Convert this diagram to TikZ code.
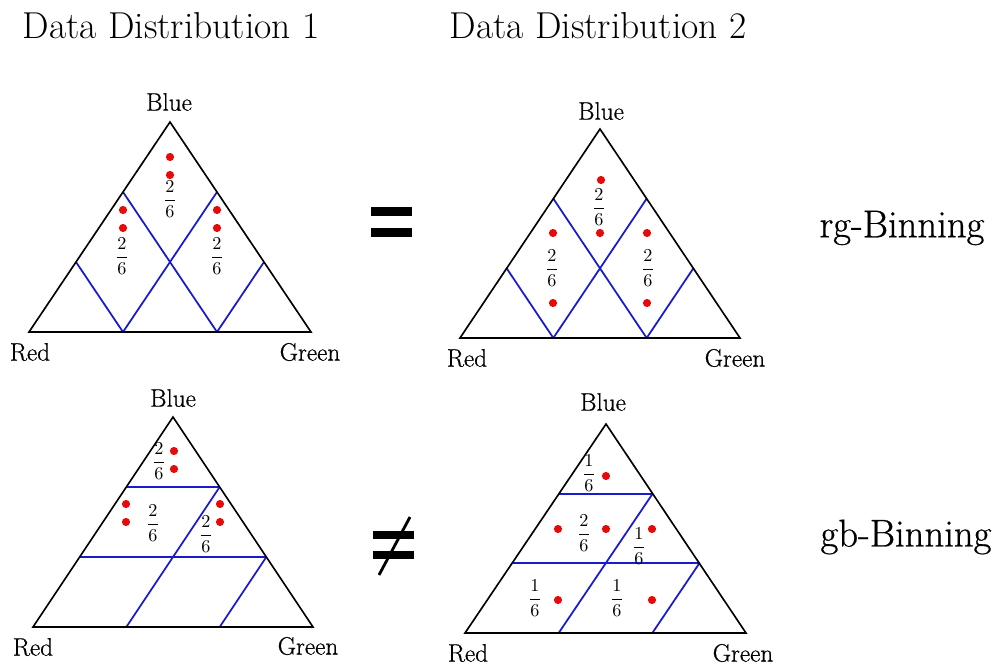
\documentclass[tikz,border=0pt]{standalone}
\usepackage{fontspec}
\usepackage{amsmath}
\usetikzlibrary{calc}
\newfontfamily\heavyfont{Latin Modern Roman}[FakeBold=0.7]
\newcommand{\binfrac}[2]{\scalebox{1.55}{$\dfrac{#1}{#2}$}}
\definecolor{dotred}{RGB}{232,10,10}
\definecolor{binblue}{RGB}{25,25,205}

\begin{document}
\begin{tikzpicture}[
    x=0.03cm, y=-0.03cm,
    tri/.style={draw=black, line width=1.4pt, line join=miter},
    bin/.style={draw=binblue, line width=1.5pt},
    dot/.style={circle, fill=dotred, inner sep=0pt, minimum size=0.245cm},
    frac/.style={inner sep=0pt},
    corner/.style={inner sep=0pt, font=\heavyfont\fontsize{21.5}{24}\selectfont},
    title/.style={inner sep=0pt, font=\fontsize{32}{36}\selectfont},
    binname/.style={inner sep=0pt, font=\heavyfont\fontsize{33}{37}\selectfont},
    bar/.style={fill=black, inner sep=0pt, minimum width=1.23cm, minimum height=0.26cm}
]
\useasboundingbox (0,0) rectangle (996,666);

\node[title] (dist1) at (171,26) {Data Distribution 1};
\node[title] (dist2) at (598,26) {Data Distribution 2};
\node[binname] (rgbin) at (902,228) {rg-Binning};
\node[binname] (gbbin) at (906,537) {gb-Binning};

% triangle corners
\coordinate (r1) at (29,332);  \coordinate (g1) at (311,332); \coordinate (b1) at (170,122);
\coordinate (r2) at (460,338); \coordinate (g2) at (740,338); \coordinate (b2) at (600,129);
\coordinate (r3) at (33,627);  \coordinate (g3) at (313,627); \coordinate (b3) at (173,417);
\coordinate (r4) at (465,633); \coordinate (g4) at (746,633); \coordinate (b4) at (606,424);

% rg-binning
\draw[bin] ($(r1)!1/3!(g1)$) -- ($(r1)!1/3!(b1)$);
\draw[bin] ($(r1)!2/3!(g1)$) -- ($(r1)!2/3!(b1)$);
\draw[bin] ($(r1)!1/3!(g1)$) -- ($(g1)!2/3!(b1)$);
\draw[bin] ($(r1)!2/3!(g1)$) -- ($(g1)!1/3!(b1)$);
\draw[bin] ($(r2)!1/3!(g2)$) -- ($(r2)!1/3!(b2)$);
\draw[bin] ($(r2)!2/3!(g2)$) -- ($(r2)!2/3!(b2)$);
\draw[bin] ($(r2)!1/3!(g2)$) -- ($(g2)!2/3!(b2)$);
\draw[bin] ($(r2)!2/3!(g2)$) -- ($(g2)!1/3!(b2)$);
% gb-binning
\draw[bin] ($(r3)!1/3!(b3)$) -- ($(g3)!1/3!(b3)$);
\draw[bin] ($(r3)!2/3!(b3)$) -- ($(g3)!2/3!(b3)$);
\draw[bin] ($(r3)!1/3!(g3)$) -- ($(g3)!2/3!(b3)$);
\draw[bin] ($(r3)!2/3!(g3)$) -- ($(g3)!1/3!(b3)$);
\draw[bin] ($(r4)!1/3!(b4)$) -- ($(g4)!1/3!(b4)$);
\draw[bin] ($(r4)!2/3!(b4)$) -- ($(g4)!2/3!(b4)$);
\draw[bin] ($(r4)!1/3!(g4)$) -- ($(g4)!2/3!(b4)$);
\draw[bin] ($(r4)!2/3!(g4)$) -- ($(g4)!1/3!(b4)$);

\draw[tri] (r1) -- (g1) -- (b1) -- cycle;
\draw[tri] (r2) -- (g2) -- (b2) -- cycle;
\draw[tri] (r3) -- (g3) -- (b3) -- cycle;
\draw[tri] (r4) -- (g4) -- (b4) -- cycle;

\node[corner] (blue1) at (169,102) {Blue};
\node[corner] (red1) at (30,352) {Red};
\node[corner] (green1) at (310,352) {Green};
\node[corner] (blue2) at (601,111) {Blue};
\node[corner] (red2) at (467,358) {Red};
\node[corner] (green2) at (735,358) {Green};
\node[corner] (blue3) at (173,398) {Blue};
\node[corner] (red3) at (33,647) {Red};
\node[corner] (green3) at (308,646) {Green};
\node[corner] (blue4) at (603,402) {Blue};
\node[corner] (red4) at (468,653) {Red};
\node[corner] (green4) at (743,653) {Green};

% distribution 1, rg
\node[dot] (p1a) at (170,157) {};
\node[dot] (p1b) at (170,175) {};
\node[dot] (p1c) at (123,210) {};
\node[dot] (p1d) at (123,228) {};
\node[dot] (p1e) at (217,210) {};
\node[dot] (p1f) at (217,228) {};
\node[frac] (f1a) at (170,199) {\binfrac{2}{6}};
\node[frac] (f1b) at (122,256) {\binfrac{2}{6}};
\node[frac] (f1c) at (217,256) {\binfrac{2}{6}};

% distribution 2, rg
\node[dot] (p2a) at (601,180) {};
\node[dot] (p2b) at (600,233) {};
\node[dot] (p2c) at (553,233) {};
\node[dot] (p2d) at (553,303) {};
\node[dot] (p2e) at (647,233) {};
\node[dot] (p2f) at (647,303) {};
\node[frac] (f2a) at (599,207) {\binfrac{2}{6}};
\node[frac] (f2b) at (552,268) {\binfrac{2}{6}};
\node[frac] (f2c) at (648,268) {\binfrac{2}{6}};

% distribution 1, gb
\node[dot] (p3a) at (174,451) {};
\node[dot] (p3b) at (174,469) {};
\node[dot] (p3c) at (126,504) {};
\node[dot] (p3d) at (126,522) {};
\node[dot] (p3e) at (220,504) {};
\node[dot] (p3f) at (220,522) {};
\node[frac] (f3a) at (159,461) {\binfrac{2}{6}};
\node[frac] (f3b) at (153,523) {\binfrac{2}{6}};
\node[frac] (f3c) at (206,534) {\binfrac{2}{6}};

% distribution 2, gb
\node[dot] (p4a) at (606,476) {};
\node[dot] (p4b) at (558,529) {};
\node[dot] (p4c) at (606,529) {};
\node[dot] (p4d) at (652,529) {};
\node[dot] (p4e) at (558,600) {};
\node[dot] (p4f) at (652,600) {};
\node[frac] (f4a) at (589,473) {\binfrac{1}{6}};
\node[frac] (f4b) at (584,533) {\binfrac{2}{6}};
\node[frac] (f4c) at (639,546) {\binfrac{1}{6}};
\node[frac] (f4d) at (535,598) {\binfrac{1}{6}};
\node[frac] (f4e) at (617,598) {\binfrac{1}{6}};

% = and not =
\node[bar] (eqtop) at (391.5,211.5) {};
\node[bar] (eqbot) at (391.5,232.5) {};
\node[bar] (neqtop) at (393,535) {};
\node[bar] (neqbot) at (393,555) {};
\coordinate (slashtop) at (410,517);
\coordinate (slashbot) at (379,575);
\draw[line width=2.4pt] (slashtop) -- (slashbot);
\end{tikzpicture}
\end{document}
